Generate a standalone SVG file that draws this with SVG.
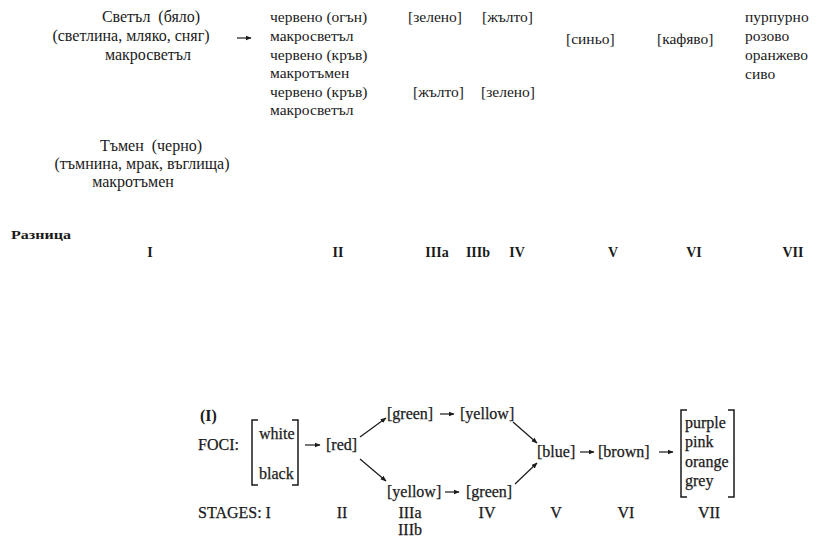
<svg xmlns="http://www.w3.org/2000/svg" width="822" height="539" viewBox="0 0 822 539">
<style>
text{font-family:"Liberation Serif","DejaVu Serif",serif;fill:#1a1a1a}
.t{font-size:15.5px}
.L{font-size:16px;text-anchor:middle}
.c{text-anchor:middle}
.r{font-size:14px;font-weight:bold;text-anchor:middle}
.b{font-size:16px;stroke:#1a1a1a;stroke-width:0.25}
.bb{font-size:16px;font-weight:bold}
.ln{stroke:#1a1a1a;stroke-width:1.2;fill:none}
.br{stroke:#1a1a1a;stroke-width:1.5;fill:none}
</style>
<defs>
<marker id="ah" viewBox="0 0 10 10" refX="9" refY="5" markerWidth="6" markerHeight="6" orient="auto" markerUnits="userSpaceOnUse">
<path d="M0,1 L10,5 L0,9 Z" fill="#1a1a1a"/>
</marker>
</defs>
<rect width="822" height="539" fill="#ffffff"/>

<g id="light">
<text class="L" x="151" y="22" xml:space="preserve">Светъл  (бяло)</text>
<text class="L" x="131" y="41">(светлина, мляко, сняг)</text>
<text class="L" x="148" y="60">макросветъл</text>
</g>
<g id="dark">
<text class="L" x="151" y="151" xml:space="preserve">Тъмен  (черно)</text>
<text class="L" x="142" y="169">(тъмнина, мрак, въглища)</text>
<text class="L" x="133" y="187">макротъмен</text>
</g>
<g id="red-stage">
<text class="t" x="270" y="22">червено (огън)</text>
<text class="t" x="270" y="41">макросветъл</text>
<text class="t" x="270" y="60">червено (кръв)</text>
<text class="t" x="270" y="78">макротъмен</text>
<text class="t" x="270" y="97">червено (кръв)</text>
<text class="t" x="270" y="115">макросветъл</text>
</g>
<g id="top-green"><text class="t" x="408" y="22">[зелено]</text></g>
<g id="top-yellow"><text class="t" x="482" y="22">[жълто]</text></g>
<g id="top-yellow2"><text class="t" x="413" y="97">[жълто]</text></g>
<g id="top-green2"><text class="t" x="481" y="97">[зелено]</text></g>
<g id="top-blue"><text class="t" x="566" y="44">[синьо]</text></g>
<g id="top-brown"><text class="t" x="657" y="44">[кафяво]</text></g>
<g id="top-rest">
<text class="t" x="745" y="22">пурпурно</text>
<text class="t" x="745" y="41">розово</text>
<text class="t" x="745" y="60">оранжево</text>
<text class="t" x="745" y="79">сиво</text>
</g>

<g id="stages-top">
<text x="11" y="239" textLength="60" lengthAdjust="spacingAndGlyphs" style="font-size:13px;font-weight:bold">Разница</text>
<text class="r" x="150" y="257">I</text>
<text class="r" x="338" y="257">II</text>
<text class="r" x="437" y="257">IIIa</text>
<text class="r" x="478" y="257">IIIb</text>
<text class="r" x="517" y="257">IV</text>
<text class="r" x="613" y="257">V</text>
<text class="r" x="694" y="257">VI</text>
<text class="r" x="793" y="257">VII</text>
</g>

<g id="b-label">
<text class="bb" x="200" y="421">(I)</text>
<text class="b" x="198" y="450">FOCI:</text>
</g>
<g id="b-wb">
<path class="br" d="M258,420 H252 V485 H258"/>
<text class="b" x="259" y="439">white</text>
<text class="b" x="259" y="479">black</text>
<path class="br" d="M292,420 H298 V485 H292"/>
</g>
<g id="b-red"><text class="b" x="326" y="450">[red]</text></g>
<g id="b-green1"><text class="b" x="387" y="419">[green]</text></g>
<g id="b-yellow1"><text class="b" x="460" y="419">[yellow]</text></g>
<g id="b-yellow2"><text class="b" x="387" y="497">[yellow]</text></g>
<g id="b-green2"><text class="b" x="466" y="497">[green]</text></g>
<g id="b-blue"><text class="b" x="537" y="457">[blue]</text></g>
<g id="b-brown"><text class="b" x="598" y="457">[brown]</text></g>
<g id="b-rest">
<path class="br" d="M687,410 H681 V497 H687"/>
<text class="b" x="685" y="428">purple</text>
<text class="b" x="685" y="447">pink</text>
<text class="b" x="685" y="467">orange</text>
<text class="b" x="685" y="486">grey</text>
<path class="br" d="M728,410 H734 V497 H728"/>
</g>
<g id="b-stages">
<text class="b" x="198" y="518">STAGES: I</text>
<text class="b c" x="342" y="518">II</text>
<text class="b c" x="410" y="518">IIIa</text>
<text class="b c" x="410" y="535">IIIb</text>
<text class="b c" x="487" y="518">IV</text>
<text class="b c" x="556" y="518">V</text>
<text class="b c" x="626" y="518">VI</text>
<text class="b c" x="709" y="518">VII</text>
</g>

<g id="connectors">
<line class="ln" x1="237" y1="38" x2="251" y2="38" marker-end="url(#ah)"/>
<line class="ln" x1="305" y1="445" x2="320" y2="445" marker-end="url(#ah)"/>
<line class="ln" x1="360" y1="437" x2="386" y2="418" marker-end="url(#ah)"/>
<line class="ln" x1="360" y1="459" x2="386" y2="481" marker-end="url(#ah)"/>
<line class="ln" x1="440" y1="414" x2="454" y2="414" marker-end="url(#ah)"/>
<line class="ln" x1="445" y1="492" x2="459" y2="492" marker-end="url(#ah)"/>
<line class="ln" x1="513" y1="422" x2="537" y2="443" marker-end="url(#ah)"/>
<line class="ln" x1="515" y1="484" x2="537" y2="463" marker-end="url(#ah)"/>
<line class="ln" x1="580" y1="452" x2="594" y2="452" marker-end="url(#ah)"/>
<line class="ln" x1="659" y1="452" x2="673" y2="452" marker-end="url(#ah)"/>
</g>
</svg>
